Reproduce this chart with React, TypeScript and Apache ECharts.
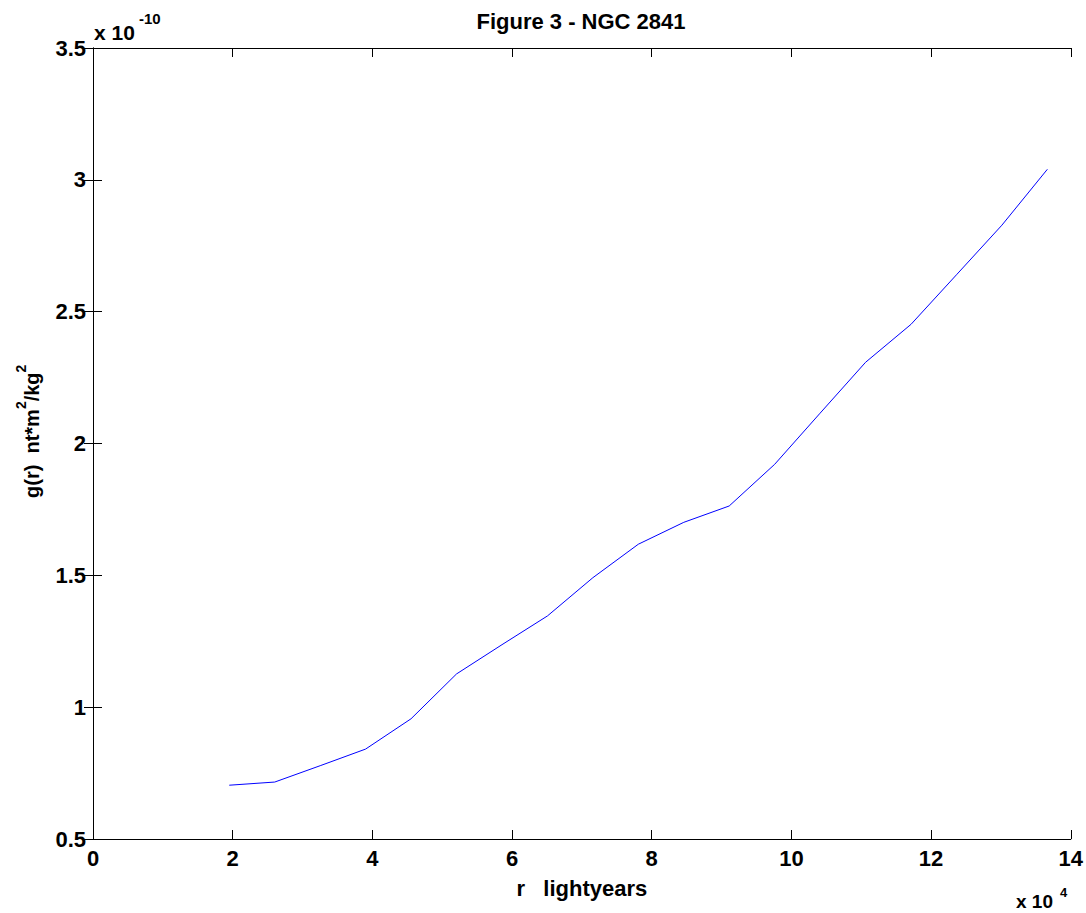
import React, { useEffect, useRef } from "react";
import * as echarts from "echarts";

// r in units of 10^4 lightyears
const rLightyears = [1.951, 2.602, 3.253, 3.903, 4.554, 5.205, 5.856, 6.507, 7.157, 7.808, 8.459, 9.109, 9.76, 10.411, 11.062, 11.713, 12.364, 13.014, 13.665];
// g(r) in units of 10^-10 nt*m^2/kg^2
const gValues = [0.704, 0.716, 0.778, 0.841, 0.956, 1.126, 1.237, 1.346, 1.491, 1.618, 1.701, 1.763, 1.921, 2.115, 2.308, 2.452, 2.64, 2.828, 3.04];

const xTicks = [0, 2, 4, 6, 8, 10, 12, 14];
const yTicks = [0.5, 1, 1.5, 2, 2.5, 3, 3.5];

const titleText = "Figure 3 - NGC 2841";
const xName = "r   lightyears";
// y label pieces: [text, isSuperscript]
const yNameParts: [string, boolean][] = [
  ["g(r)  nt*m", false],
  ["2", true],
  ["/kg", false],
  ["2", true],
];

const FONT = "'Liberation Sans', Arial, Helvetica, sans-serif";

function measure(text: string, font: string): number {
  const c = document.createElement("canvas");
  const ctx = c.getContext("2d");
  if (!ctx) return text.length * 10;
  ctx.font = font;
  return ctx.measureText(text).width;
}

export default function App() {
  const ref = useRef<HTMLDivElement>(null);
  useEffect(() => {
    if (!ref.current) return;
    const chart = echarts.init(ref.current, null, { renderer: "svg" });
    const data = rLightyears.map((r, i) => [r, gValues[i]]);
    const tickCommon = {
      show: true,
      inside: true,
      length: 9,
      lineStyle: { color: "#000", width: 1 },
    };
    const lineCommon = { show: true, lineStyle: { color: "#000", width: 1 } };
    const labelCommon = {
      color: "#000",
      fontFamily: FONT,
      fontWeight: "bold" as const,
      fontSize: 22,
    };

    // rotated y-axis label with real superscripts
    const mainFont = `bold 20px ${FONT}`;
    const supFont = `bold 14px ${FONT}`;
    let cx = 0;
    const yNameChildren = yNameParts.map(([t, sup]) => {
      const font = sup ? supFont : mainFont;
      const el = {
        type: "text",
        x: cx,
        y: sup ? -13 - 0.3465 * 14 : -0.3465 * 20,
        style: {
          text: t,
          fill: "#000",
          font,
          textAlign: "left",
          textVerticalAlign: "middle",
        },
      };
      cx += measure(t, font);
      return el;
    });

    chart.setOption({
      animation: false,
      backgroundColor: "#fff",
      grid: { left: 93, top: 48, right: 15, bottom: 74, containLabel: false },
      xAxis: [
        {
          type: "value",
          position: "bottom",
          min: xTicks[0],
          max: xTicks[xTicks.length - 1],
          interval: 2,
          axisLine: lineCommon,
          axisTick: tickCommon,
          splitLine: { show: false },
          axisLabel: { ...labelCommon, margin: 8 },
          name: xName,
          nameLocation: "middle",
          nameGap: 38,
          nameTextStyle: { ...labelCommon, fontSize: 22 },
        },
        {
          type: "value",
          position: "top",
          min: xTicks[0],
          max: xTicks[xTicks.length - 1],
          interval: 2,
          axisLine: lineCommon,
          axisTick: tickCommon,
          splitLine: { show: false },
          axisLabel: { show: false },
        },
      ],
      yAxis: [
        {
          type: "value",
          position: "left",
          min: yTicks[0],
          max: yTicks[yTicks.length - 1],
          interval: 0.5,
          axisLine: lineCommon,
          axisTick: tickCommon,
          splitLine: { show: false },
          axisLabel: { ...labelCommon, margin: 7 },
        },
        {
          type: "value",
          position: "right",
          min: yTicks[0],
          max: yTicks[yTicks.length - 1],
          interval: 0.5,
          axisLine: lineCommon,
          axisTick: tickCommon,
          splitLine: { show: false },
          axisLabel: { show: false },
        },
      ],
      graphic: [
        {
          type: "text",
          x: 581,
          y: 21,
          style: {
            text: titleText,
            fill: "#000",
            font: `bold 22px ${FONT}`,
            textAlign: "center",
            textVerticalAlign: "middle",
          },
        },
        {
          type: "group",
          x: 39,
          y: 498,
          rotation: Math.PI / 2,
          children: yNameChildren,
        },
        {
          type: "text",
          x: 94,
          y: 32,
          style: {
            text: "x 10",
            fill: "#000",
            font: `bold 21px ${FONT}`,
            textAlign: "left",
            textVerticalAlign: "middle",
          },
        },
        {
          type: "text",
          x: 139,
          y: 18,
          style: {
            text: "-10",
            fill: "#000",
            font: `bold 15px ${FONT}`,
            textAlign: "left",
            textVerticalAlign: "middle",
          },
        },
        {
          type: "text",
          x: 1016,
          y: 901,
          style: {
            text: "x 10",
            fill: "#000",
            font: `bold 19px ${FONT}`,
            textAlign: "left",
            textVerticalAlign: "middle",
          },
        },
        {
          type: "text",
          x: 1060,
          y: 892,
          style: {
            text: "4",
            fill: "#000",
            font: `bold 13px ${FONT}`,
            textAlign: "left",
            textVerticalAlign: "middle",
          },
        },
      ],
      series: [
        {
          type: "line",
          xAxisIndex: 0,
          yAxisIndex: 0,
          data,
          showSymbol: false,
          symbol: "none",
          lineStyle: { color: "#0000ff", width: 1 },
          itemStyle: { color: "#0000ff" },
          smooth: false,
        },
      ],
    });
    return () => chart.dispose();
  }, []);
  return (
    <div
      ref={ref}
      style={{ position: "absolute", left: 0, top: 0, width: 1086, height: 913 }}
    />
  );
}
